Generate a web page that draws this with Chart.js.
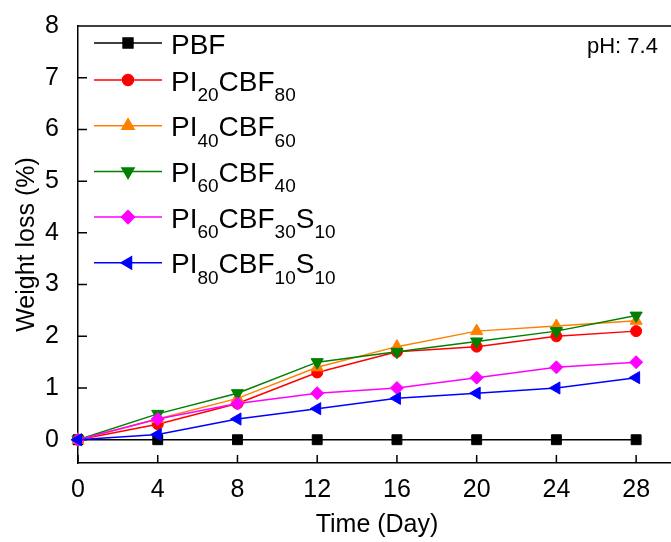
<!DOCTYPE html>
<html>
<head>
<meta charset="utf-8">
<script src="https://cdn.jsdelivr.net/npm/chart.js@4"></script>
<style>
html, body { margin: 0; padding: 0; background: #fff; overflow: hidden; }
#wrap { width: 671px; height: 542px; overflow: hidden; position: relative; }
canvas { display: block; }
</style>
</head>
<body>
<div id="wrap"><canvas id="chart" width="700" height="542"></canvas></div>
<script>
// data
const days = [0, 4, 8, 12, 16, 20, 24, 28];
const pbf = [0, 0, 0, 0, 0, 0, 0, 0];
const pi20 = [0, 0.3, 0.7, 1.3, 1.7, 1.8, 2.0, 2.1];
const pi40 = [0, 0.4, 0.8, 1.4, 1.8, 2.1, 2.2, 2.3];
const pi60 = [0, 0.5, 0.9, 1.5, 1.7, 1.9, 2.1, 2.4];
const pi60s = [0, 0.4, 0.7, 0.9, 1.0, 1.2, 1.4, 1.5];
const pi80s = [0, 0.1, 0.4, 0.6, 0.8, 0.9, 1.0, 1.2];

const xTicks = [0, 4, 8, 12, 16, 20, 24, 28];
const yTicks = [0, 1, 2, 3, 4, 5, 6, 7, 8];

// legend names: even parts normal, odd parts subscript
const names = [
    ['PBF'],
    ['PI', '20', 'CBF', '80'],
    ['PI', '40', 'CBF', '60'],
    ['PI', '60', 'CBF', '40'],
    ['PI', '60', 'CBF', '30', 'S', '10'],
    ['PI', '80', 'CBF', '10', 'S', '10']
];

const FONT = '"Liberation Sans", Arial, sans-serif';

function series(i, data, color, style, rot, r) {
    return {
        label: names[i].join(''),
        data: days.map((d, k) => ({ x: d, y: data[k] })),
        borderColor: color,
        backgroundColor: color,
        pointBackgroundColor: color,
        pointBorderColor: color,
        pointStyle: style,
        pointRotation: rot,
        pointRadius: r,
        pointHoverRadius: r,
        pointBorderWidth: 1,
        borderWidth: 1.5,
        tension: 0,
        clip: false,
        order: 6 - i
    };
}

const frame = {
    id: 'frame',
    beforeDatasetsDraw(chart) {
        const { ctx, chartArea: a, scales: { x, y } } = chart;
        ctx.save();
        ctx.strokeStyle = '#000';
        ctx.lineWidth = 1.5;
        ctx.beginPath();
        ctx.moveTo(a.left, a.top);
        ctx.lineTo(a.right, a.top);
        ctx.lineTo(a.right, a.bottom);
        xTicks.forEach(v => {
            const px = x.getPixelForValue(v);
            ctx.moveTo(px, a.bottom);
            ctx.lineTo(px, a.bottom - 8);
        });
        yTicks.forEach(v => {
            const py = y.getPixelForValue(v);
            ctx.moveTo(a.left, py);
            ctx.lineTo(a.left + 9, py);
        });
        ctx.stroke();
        ctx.restore();
    },
    afterDatasetsDraw(chart) {
        const { ctx, chartArea: a } = chart;
        ctx.save();
        chart.data.datasets.forEach((ds, i) => {
            const ly = a.top + 17 + (i ? 37 + (i - 1) * 45.7 : 0);
            ctx.strokeStyle = ds.borderColor;
            ctx.fillStyle = ds.borderColor;
            ctx.lineWidth = 1.5;
            ctx.beginPath();
            ctx.moveTo(94, ly);
            ctx.lineTo(162, ly);
            ctx.stroke();
            Chart.helpers.drawPoint(ctx, {
                pointStyle: ds.pointStyle,
                rotation: ds.pointRotation,
                radius: ds.pointRadius,
                borderWidth: 1
            }, 128, ly);

            ctx.fillStyle = '#000';
            ctx.textBaseline = 'alphabetic';
            let tx = 171;
            names[i].forEach((part, k) => {
                const sub = k % 2 === 1;
                ctx.font = (sub ? '19px ' : '28px ') + FONT;
                ctx.fillText(part, tx, ly + (sub ? 21 : 10.5));
                tx += ctx.measureText(part).width;
            });
        });
        ctx.font = '22px ' + FONT;
        ctx.fillStyle = '#000';
        ctx.fillText('pH: 7.4', 587, 53);
        ctx.restore();
    }
};

new Chart(document.getElementById('chart'), {
    type: 'line',
    data: {
        datasets: [
            series(0, pbf, '#000000', 'rect', 0, 7),
            series(1, pi20, '#ff0000', 'circle', 0, 5.5),
            series(2, pi40, '#ff8000', 'triangle', 0, 7),
            series(3, pi60, '#008000', 'triangle', 180, 7),
            series(4, pi60s, '#ff00ff', 'rectRot', 0, 6.5),
            series(5, pi80s, '#0000ff', 'triangle', -90, 7)
        ]
    },
    options: {
        responsive: false,
        animation: false,
        devicePixelRatio: 1,
        layout: { padding: { top: 26, left: 0, right: 24, bottom: 0 } },
        plugins: { legend: { display: false }, tooltip: { enabled: false } },
        scales: {
            x: {
                type: 'linear',
                min: 0,
                max: 30,
                afterFit: s => { s.height = 79; },
                afterBuildTicks: s => { s.ticks = xTicks.map(v => ({ value: v })); },
                grid: { display: false },
                border: { display: true, color: '#000', width: 1.5 },
                ticks: { color: '#000', font: { family: FONT, size: 25 }, padding: 4, maxRotation: 0 },
                title: {
                    display: true,
                    text: 'Time (Day)',
                    color: '#000',
                    font: { family: FONT, size: 25 },
                    padding: { top: 0, bottom: 2 }
                }
            },
            y: {
                min: -0.45,
                max: 8,
                afterFit: s => { s.width = 78; },
                afterBuildTicks: s => { s.ticks = yTicks.map(v => ({ value: v })); },
                grid: { display: false },
                border: { display: true, color: '#000', width: 1.5 },
                ticks: { color: '#000', font: { family: FONT, size: 25 }, padding: 11 },
                title: {
                    display: true,
                    text: 'Weight loss (%)',
                    color: '#000',
                    font: { family: FONT, size: 25 },
                    padding: { top: 12, bottom: 0 }
                }
            }
        }
    },
    plugins: [frame]
});
</script>
</body>
</html>
